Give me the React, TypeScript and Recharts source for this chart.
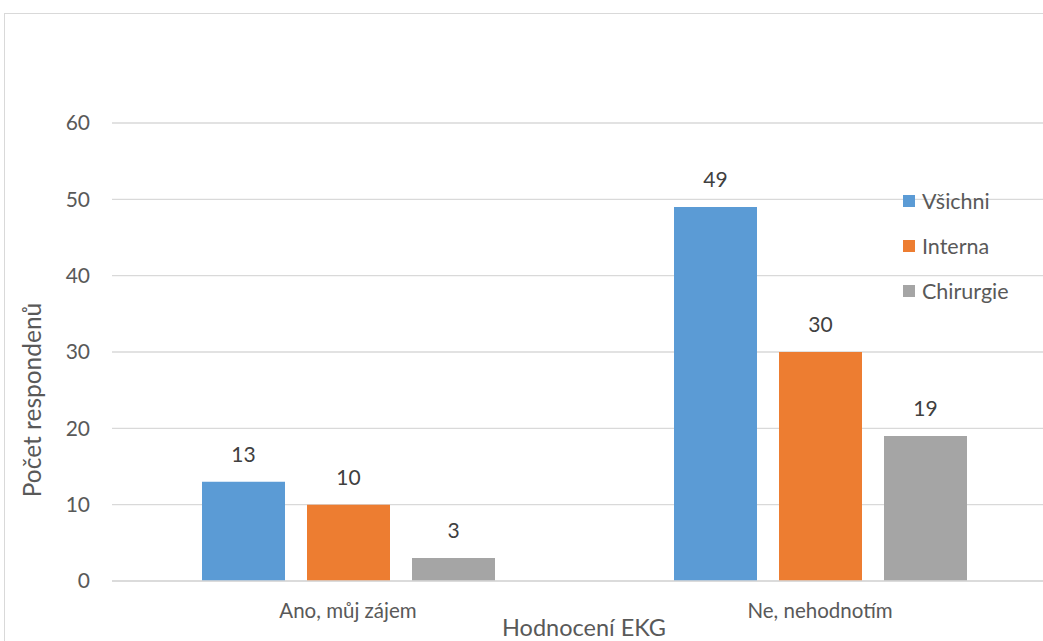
import React from "react";
import { BarChart, Bar, XAxis, YAxis, CartesianGrid, Legend, LabelList } from "recharts";

const categories = ["Ano, můj zájem", "Ne, nehodnotím"];
const seriesNames = ["Všichni", "Interna", "Chirurgie"];
const vsichni = [13, 49];
const interna = [10, 30];
const chirurgie = [3, 19];
const yTicks = [0, 10, 20, 30, 40, 50, 60];

const data = categories.map((name, i) => ({
  name,
  vsichni: vsichni[i],
  interna: interna[i],
  chirurgie: chirurgie[i],
}));

const FONT = "Lato, 'Open Sans', sans-serif";
const TEXT = "#595959";

// keep legend entries in series order (recharts reverses them in vertical layout)
function LegendBox({ payload }: any) {
  const items = [...(payload || [])].sort(
    (a: any, b: any) => seriesNames.indexOf(a.value) - seriesNames.indexOf(b.value)
  );
  return (
    <div style={{ fontFamily: FONT, fontSize: 21.5, color: TEXT }}>
      {items.map((p: any) => (
        <div key={p.value} style={{ display: "flex", alignItems: "center", height: 45 }}>
          <span style={{ width: 12, height: 12, background: p.color, marginRight: 7 }} />
          <span>{p.value}</span>
        </div>
      ))}
    </div>
  );
}

export default function App() {
  return (
    <div style={{ position: "absolute", left: 0, top: 0, width: 1043, height: 641, overflow: "hidden", background: "#fff" }}>
      <div style={{ position: "absolute", left: 4, top: 13, width: 1100, height: 700, border: "1px solid #d9d9d9" }} />
      <div style={{ position: "absolute", left: 0, top: 0 }}>
        <BarChart width={1070} height={641} data={data} margin={{ top: 123, right: 14, bottom: 0, left: 0 }} barSize={83} barGap={22}>
          <CartesianGrid vertical={false} stroke="#d9d9d9" strokeWidth={1.3} />
          <XAxis
            dataKey="name"
            height={60}
            tickLine={false}
            tickSize={0}
            tickMargin={22}
            axisLine={{ stroke: "#d9d9d9", strokeWidth: 1.3 }}
            tick={{ fill: TEXT, fontSize: 20.5, fontFamily: FONT }}
            label={{
              content: () => (
                <text x={584} y={636} textAnchor="middle" fill={TEXT} fontSize={23.5} fontFamily={FONT}>
                  Hodnocení EKG
                </text>
              ),
            }}
          />
          <YAxis
            width={112}
            domain={[0, 60]}
            ticks={yTicks}
            tickLine={false}
            axisLine={false}
            tickSize={0}
            tickMargin={22}
            tick={{ fill: TEXT, fontSize: 21, fontFamily: FONT }}
            label={{
              content: () => (
                <text
                  x={31}
                  y={400}
                  transform="rotate(-90 31 400)"
                  textAnchor="middle"
                  dominantBaseline="central"
                  fill={TEXT}
                  fontSize={24.5}
                  fontFamily={FONT}
                >
                  Počet respondenů
                </text>
              ),
            }}
          />
          <Legend
            layout="vertical"
            align="center"
            verticalAlign="middle"
            content={<LegendBox />}
            wrapperStyle={{ left: 903, top: 178, width: 140 }}
          />
          <Bar dataKey="vsichni" name="Všichni" fill="#5b9bd5" isAnimationActive={false}>
            <LabelList dataKey="vsichni" position="top" offset={20} fill="#404040" fontSize={21} fontFamily={FONT} />
          </Bar>
          <Bar dataKey="interna" name="Interna" fill="#ed7d31" isAnimationActive={false}>
            <LabelList dataKey="interna" position="top" offset={20} fill="#404040" fontSize={21} fontFamily={FONT} />
          </Bar>
          <Bar dataKey="chirurgie" name="Chirurgie" fill="#a5a5a5" isAnimationActive={false}>
            <LabelList dataKey="chirurgie" position="top" offset={20} fill="#404040" fontSize={21} fontFamily={FONT} />
          </Bar>
        </BarChart>
      </div>
    </div>
  );
}
